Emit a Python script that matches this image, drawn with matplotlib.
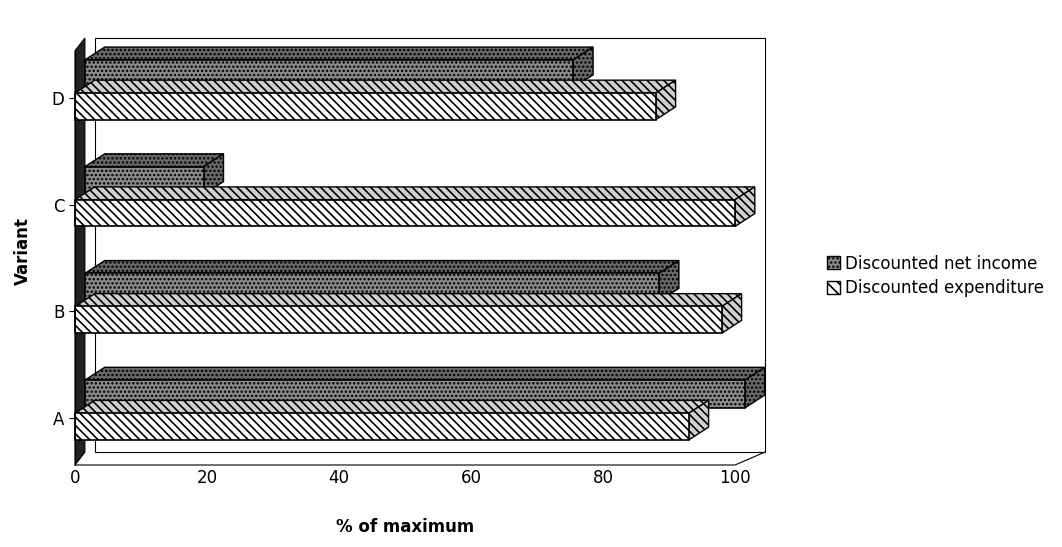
import matplotlib
matplotlib.use("Agg")
import matplotlib.pyplot as plt
from matplotlib.patches import Polygon, Rectangle, Patch

categories = ["A", "B", "C", "D"]
net_income = [100, 87, 18, 74]
expenditure = [93, 98, 100, 88]
xticks = [0, 20, 40, 60, 80, 100]

plt.rcParams['hatch.linewidth'] = 1.2
fig = plt.figure(figsize=(10.62, 5.47), dpi=100)
W, H = 1062, 547
ax = fig.add_axes([75/W, 1-465/H, 660/W, 427/H])
ax.set_xlim(0, 100)
ax.set_ylim(-0.44, 3.56)
y0b = -0.44
dx, dy = 3.0, 0.12
for s in ax.spines.values():
    s.set_visible(False)

# walls
ax.add_patch(Polygon([(dx, y0b+dy), (100+dx+1.5, y0b+dy), (100+dx+1.5, 3.56), (dx, 3.56)],
                     closed=True, fill=False, ec='black', lw=0.8, clip_on=False))
ax.plot([0, 100, 100+dx+1.5], [y0b, y0b, y0b+dy], color='black', lw=0.8, clip_on=False)
ax.add_patch(Polygon([(0, y0b), (dx*0.5, y0b+dy), (dx*0.5, 3.56), (0, 3.56-dy)],
                     closed=True, fc='#222222', ec='black', lw=0.8, clip_on=False))
ax.plot([0, 0], [y0b, 3.56-dy], color='black', lw=0.8, clip_on=False)

def bar3d(x0, x1, y0, h, fc, hatch, darker):
    ax.add_patch(Polygon([(x0, y0+h), (x1, y0+h), (x1+dx, y0+h+dy), (x0+dx, y0+h+dy)],
                         closed=True, fc=darker, ec='black', lw=1, hatch=hatch, clip_on=False))
    ax.add_patch(Polygon([(x1, y0), (x1+dx, y0+dy), (x1+dx, y0+h+dy), (x1, y0+h)],
                         closed=True, fc=darker, ec='black', lw=1, hatch=hatch, clip_on=False))
    ax.add_patch(Rectangle((x0, y0), x1-x0, h, fc=fc, ec='black', lw=1.2, hatch=hatch, clip_on=False))

for i in range(len(categories)):
    bar3d(1.5, 1.5+net_income[i], i+0.095, 0.26, '#8c8c8c', '....', '#6a6a6a')
    bar3d(0, expenditure[i], i-0.205, 0.25, 'white', '\\\\\\\\', '#d0d0d0')

ax.set_yticks(range(len(categories)))
ax.set_yticklabels(categories, fontsize=12)
ax.set_xticks(xticks)
ax.set_xticklabels([str(t) for t in xticks], fontsize=12)
ax.tick_params(axis='y', length=4, direction='out')
ax.tick_params(axis='x', length=0, pad=3)
ax.set_xlabel("% of maximum", fontsize=12, fontweight='bold', labelpad=22)
ax.set_ylabel("Variant", fontsize=12, fontweight='bold', labelpad=14)

handles = [Patch(fc='#8c8c8c', ec='black', hatch='....'),
           Patch(fc='white', ec='black', hatch='\\\\\\')]
fig.legend(handles, ["Discounted net income", "Discounted expenditure"],
           loc='center left', bbox_to_anchor=(812/W, 1-276/H), frameon=False,
           fontsize=12, handlelength=0.8, handleheight=0.8, handletextpad=0.3, labelspacing=0.4)
fig.savefig("out.png", dpi=100)
